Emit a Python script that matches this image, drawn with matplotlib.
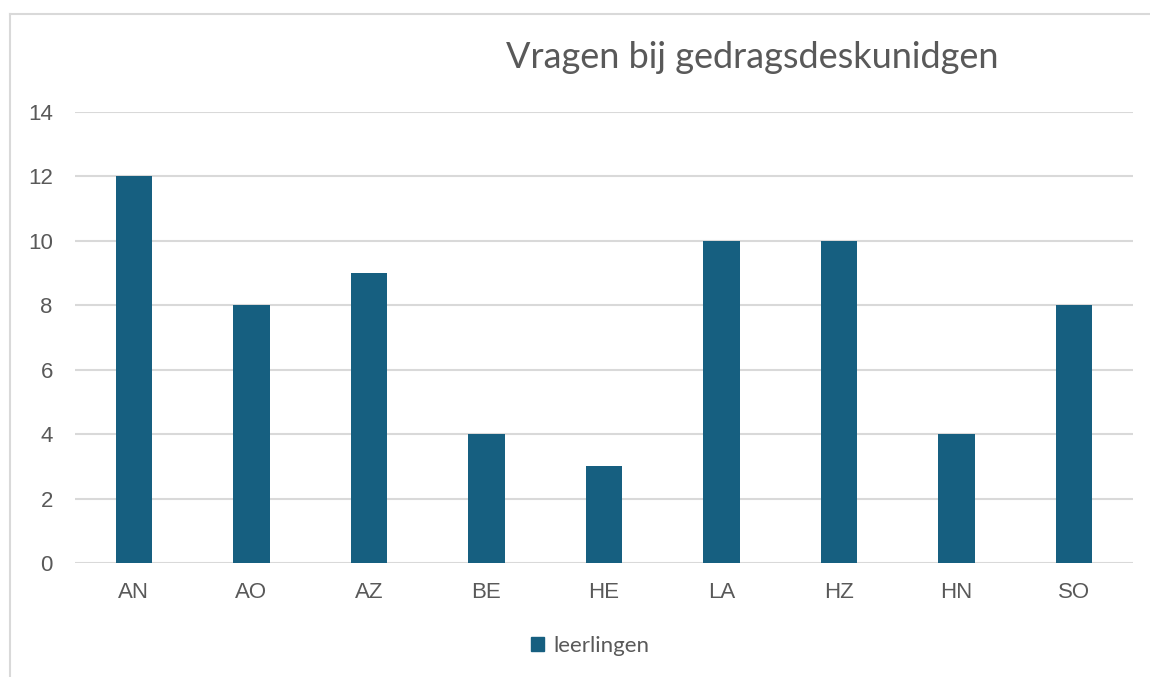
import matplotlib
matplotlib.use("Agg")
import matplotlib.pyplot as plt
from matplotlib.lines import Line2D
from matplotlib.patches import Patch

categories = ["AN", "AO", "AZ", "BE", "HE", "LA", "HZ", "HN", "SO"]
leerlingen = [12, 8, 9, 4, 3, 10, 10, 4, 8]
yticks = [0, 2, 4, 6, 8, 10, 12, 14]

W, H = 1150, 677
fig = plt.figure(figsize=(W / 100, H / 100), dpi=100)
fig.patch.set_facecolor("white")

ax = fig.add_axes([75 / W, (H - 563) / H, (1133 - 75) / W, (563 - 112) / H])
bar_color = "#165f80"
x = list(range(len(categories)))
ax.bar(x, leerlingen, width=0.31, color=bar_color, zorder=3)
ax.set_xlim(-0.5, len(categories) - 0.5)
ax.set_ylim(0, 14)
ax.set_yticks(yticks)
ax.set_xticks(x)
ax.set_xticklabels(categories)
for s in ax.spines.values():
    s.set_visible(False)
ax.grid(axis="y", color="#d9d9d9", linewidth=1.5, zorder=0)
ax.tick_params(axis="both", length=0, labelsize=16, labelcolor="#595959",
               labelfontfamily="Liberation Sans")
ax.tick_params(axis="y", pad=16)
ax.tick_params(axis="x", pad=14)

fig.text(752 / W, 1 - 58 / H, "Vragen bij gedragsdeskunidgen", ha="center", va="center",
         fontsize=26, color="#595959", family="Lato")

leg = fig.legend(handles=[Patch(color=bar_color, label="leerlingen")],
                 loc="center", bbox_to_anchor=(590 / W, 1 - 646 / H), frameon=False,
                 handlelength=0.6, handleheight=0.6, handletextpad=0.4,
                 prop={"family": "Lato", "size": 16})
for t in leg.get_texts():
    t.set_color("#595959")

fig.add_artist(Line2D([10 / W, 10 / W], [0, 1 - 14 / H], color="#d9d9d9", lw=1.5,
                      transform=fig.transFigure))
fig.add_artist(Line2D([10 / W, 1], [1 - 14 / H, 1 - 14 / H], color="#d9d9d9", lw=1.5,
                      transform=fig.transFigure))

fig.savefig("out.png", dpi=100)
